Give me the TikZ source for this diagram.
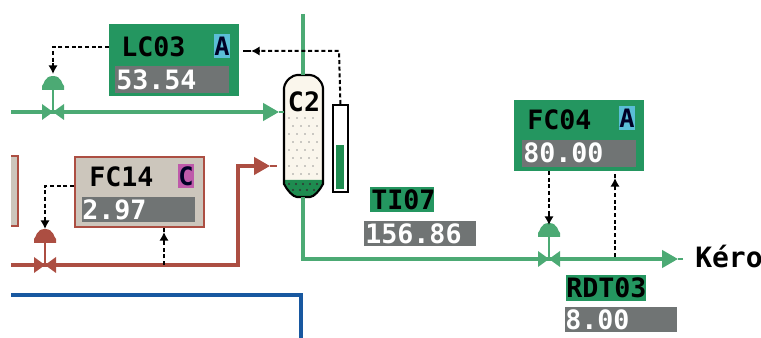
\documentclass[tikz,border=0pt]{standalone}
\usepackage{fontspec}
\setmonofont{DejaVu Sans Mono}
\usetikzlibrary{arrows.meta,patterns}
\definecolor{boxgreen}{RGB}{36,150,96}
\definecolor{pipegreen}{RGB}{76,170,116}
\definecolor{liquidgreen}{RGB}{30,140,80}
\definecolor{boxgrey}{RGB}{112,116,116}
\definecolor{boxbeige}{RGB}{204,198,188}
\definecolor{pipered}{RGB}{172,78,66}
\definecolor{pipeblue}{RGB}{24,88,160}
\definecolor{tagcyan}{RGB}{90,190,215}
\definecolor{tagpink}{RGB}{190,90,170}
\definecolor{columncream}{RGB}{250,246,236}
\tikzset{
  panel/.style 2 args={rectangle, inner sep=0pt, anchor=north west, minimum width=#1*0.75pt, minimum height=#2*0.75pt},
  tagtext/.style={font=\ttfamily\bfseries\fontsize{20}{20}\selectfont, text=black, inner sep=0pt, anchor=west},
  valtext/.style={font=\ttfamily\bfseries\fontsize{20}{20}\selectfont, text=white, inner sep=0pt, anchor=west},
  modetext/.style={font=\ttfamily\bfseries\fontsize{19}{19}\selectfont, text=black!85!blue, inner sep=0pt, minimum width=10.5pt, minimum height=18pt},
  pipe/.style={line width=2.6pt, line join=miter},
  signal/.style={line width=1.5pt, dash pattern=on 3pt off 2pt},
  stub/.style={line width=1.2pt},
  pipetip/.style={-{Triangle[length=12pt,width=13pt]}},
  sigtip/.style={-{Latex[length=6.5pt,width=7pt]}},
  pics/valve/.style={code={
    \fill[#1] (-11,-8) -- (0,0) -- (-11,8) -- cycle;
    \fill[#1] (11,-8) -- (0,0) -- (11,8) -- cycle;
    \draw[#1,line width=1.2pt] (0,0) -- (0,-22);
    \fill[#1] (-11,-22) -- (-11,-26) .. controls (-9,-27) and (-9,-36) .. (0,-36) .. controls (9,-36) and (9,-27) .. (11,-26) -- (11,-22) -- cycle;
  }}
}
\begin{document}
\begin{tikzpicture}[x=0.75pt,y=-0.75pt]
  \useasboundingbox (0,0) rectangle (761,338);
  % Blue line, bottom
  \coordinate (bluein) at (11,295);
  \coordinate (blueturn) at (301,295);
  \coordinate (blueout) at (301,338);
  \draw[pipe, pipeblue] (bluein) -- (blueturn) -- (blueout);
  % Column C2
  \coordinate (topout) at (303,14);
  \coordinate (c2top) at (303,75);
  \coordinate (c2bot) at (303,197);
  \fill[columncream] (284,88) .. controls (285,80) and (293,75) .. (297,75) -- (310,75) .. controls (315,75) and (322,80) .. (323,88) -- (323,180) -- (284,180) -- cycle;
  \foreach \y in {118,134,150,166} {
    \foreach \x in {289,297,305,313} \fill[black!40] (\x,\y) circle (0.9);
    \foreach \x in {293,301,309,317} \fill[black!40] (\x,\y+8) circle (0.9);
  }
  \fill[liquidgreen] (284,180) -- (323,180) -- (323,184) .. controls (320,190) and (314,197) .. (310,197) -- (297,197) .. controls (293,197) and (287,190) .. (284,184) -- cycle;
  \foreach \x in {289,296,303,310,317} \fill[black!80] (\x,184) circle (1.2);
  \foreach \x in {293,300,307,314} \fill[black!80] (\x,190) circle (1.2);
  \draw[line width=1.6pt] (284,88) .. controls (285,80) and (293,75) .. (297,75) -- (310,75) .. controls (315,75) and (322,80) .. (323,88) -- (323,184) .. controls (320,190) and (314,197) .. (310,197) -- (297,197) .. controls (293,197) and (287,190) .. (284,184) -- cycle;
  \node[inner sep=0pt, font=\ttfamily\bfseries\fontsize{20}{20}\selectfont] (c2) at (304,102) {C2};
  % Level gauge
  \node[panel={15}{87}, draw=black, fill=white, line width=1.4pt] (gauge) at (332,104) {};
  \fill[liquidgreen] (336,145) rectangle (344,189);
  % LC03
  \node[panel={130}{72}, fill=boxgreen] (lc03) at (109,24) {};
  \node[panel={114}{27}, fill=boxgrey] (lc03val) at (115,66) {};
  \node[tagtext] (lc03tag) at (121,47) {LC03};
  \node[valtext] (lc03num) at (116,80) {53.54};
  \node[modetext, fill=tagcyan] (lc03mode) at (222,46) {A};
  % FC14
  \node[panel={14}{70}, fill=boxbeige] (fc14side) at (4,156) {};
  \draw[pipered, line width=1.6pt] (11,156) -- (18,156) -- (18,226) -- (11,226);
  \fill[white] (0,150) rectangle (11,232);
  \node[panel={129}{70}, draw=pipered, fill=boxbeige, line width=1.5pt] (fc14) at (74,156) {};
  \node[panel={113}{25}, fill=boxgrey] (fc14val) at (82,197) {};
  \node[tagtext] (fc14tag) at (89,177) {FC14};
  \node[valtext] (fc14num) at (82,210) {2.97};
  \node[modetext, fill=tagpink] (fc14mode) at (186,176) {C};
  % FC04
  \node[panel={130}{71}, fill=boxgreen] (fc04) at (514,100) {};
  \node[panel={114}{27}, fill=boxgrey] (fc04val) at (522,140) {};
  \node[tagtext] (fc04tag) at (527,120) {FC04};
  \node[valtext] (fc04num) at (523,153) {80.00};
  \node[modetext, fill=tagcyan] (fc04mode) at (627,118) {A};
  % TI07, RDT03
  \node[panel={64}{25}, fill=boxgreen] (ti07) at (370,187) {};
  \node[tagtext] at (371,200) {TI07};
  \node[panel={112}{25}, fill=boxgrey] (ti07val) at (364,221) {};
  \node[valtext] (ti07num) at (365,234) {156.86};
  \node[panel={80}{26}, fill=boxgreen] (rdt03) at (566,275) {};
  \node[tagtext] at (566,288) {RDT03};
  \node[panel={112}{25}, fill=boxgrey] (rdt03val) at (565,307) {};
  \node[valtext] (rdt03num) at (565,320) {8.00};
  % Green lines
  \coordinate (feedin) at (11,112);
  \coordinate (feedv) at (53,112);
  \coordinate (feedtip) at (279,112);
  \coordinate (feedend) at (284,112);
  \draw[pipe, pipegreen, pipetip] (feedin) -- (feedtip);
  \draw[pipegreen, line width=1pt] (feedtip) -- (feedend);
  \draw[pipe, pipegreen] (topout) -- (c2top);
  \coordinate (kerocorner) at (303,259);
  \coordinate (kerotip) at (678,259);
  \coordinate (keroend) at (683,259);
  \draw[pipe, pipegreen, pipetip] (c2bot) -- (kerocorner) -- (kerotip);
  \draw[pipegreen, line width=1pt] (kerotip) -- (keroend);
  \node[font=\ttfamily\bfseries\fontsize{21}{21}\selectfont, inner sep=0pt, anchor=west] (kero) at (695,257) {Kéro};
  % Red line
  \coordinate (redin) at (11,265);
  \coordinate (redcorner) at (238,265);
  \coordinate (redup) at (238,166);
  \coordinate (redtip) at (270,166);
  \coordinate (redend) at (277,166);
  \draw[pipe, pipered, pipetip] (redin) -- (redcorner) -- (redup) -- (redtip);
  \draw[pipered, line width=1pt] (redtip) -- (redend);
  % Valves
  \pic at (53,112) {valve=pipegreen};
  \pic at (45,265) {valve=pipered};
  \pic at (549,259) {valve=pipegreen};
  % Signal lines
  \coordinate (lc03out) at (109,47);
  \coordinate (lc03turn) at (53,47);
  \coordinate (lc03v) at (53,74);
  \draw[signal] (lc03out) -- (lc03turn) -- (53,63);
  \draw[stub, sigtip] (53,63) -- (lc03v);
  \coordinate (lc03in) at (243,51);
  \coordinate (lc03head) at (251,51);
  \coordinate (gaugeturn) at (339,51);
  \draw[signal] (gauge.north) -- (gaugeturn) -- (259,51);
  \draw[stub, sigtip] (259,51) -- (lc03head);
  \draw[stub] (lc03head) -- (lc03in);
  \coordinate (fc14out) at (74,186);
  \coordinate (fc14turn) at (45,186);
  \coordinate (fc14v) at (45,229);
  \draw[signal] (fc14out) -- (fc14turn) -- (45,218);
  \draw[stub, sigtip] (45,218) -- (fc14v);
  \coordinate (fc14in) at (164,228);
  \coordinate (redtap) at (164,265);
  \draw[signal] (redtap) -- (164,240);
  \draw[stub, sigtip] (164,240) -- (164,232);
  \draw[stub] (164,232) -- (fc14in);
  \coordinate (fc04out) at (549,171);
  \coordinate (fc04v) at (549,225);
  \draw[signal] (fc04out) -- (549,212);
  \draw[stub, sigtip] (549,212) -- (fc04v);
  \coordinate (fc04in) at (615,174);
  \coordinate (kerotap) at (615,257);
  \draw[signal] (kerotap) -- (615,186);
  \draw[stub, sigtip] (615,186) -- (615,178);
  \draw[stub] (615,178) -- (fc04in);
\end{tikzpicture}
\end{document}
